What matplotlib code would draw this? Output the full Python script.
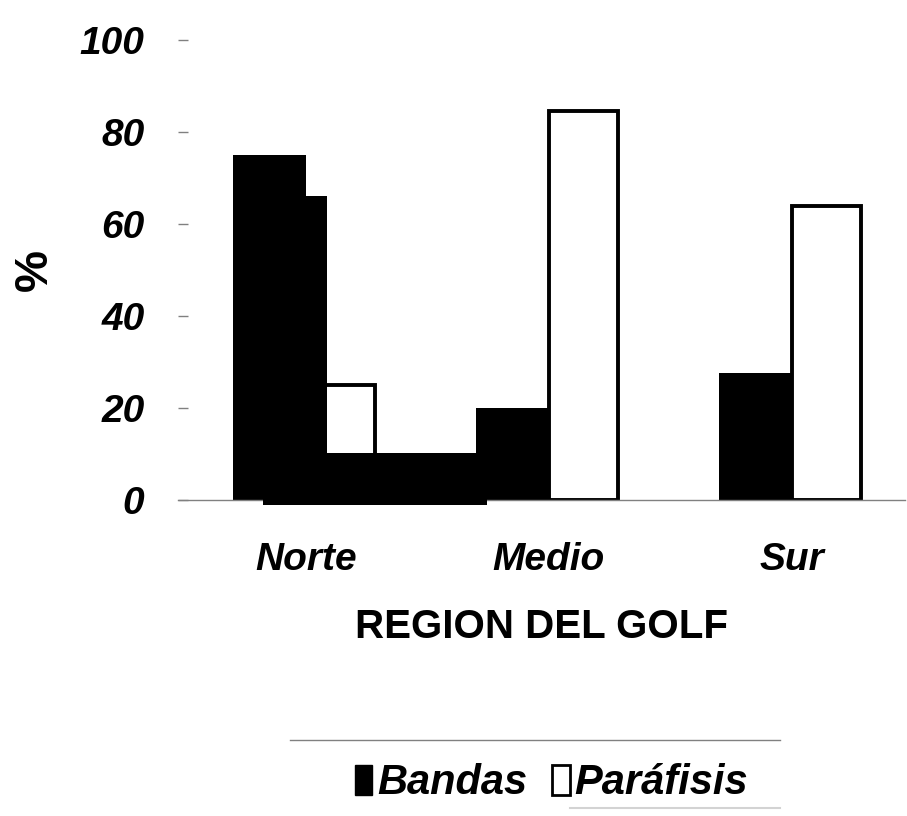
import matplotlib
matplotlib.use('Agg')
import matplotlib.pyplot as plt
from matplotlib.patches import Patch
from matplotlib.lines import Line2D

plt.rcParams['font.family'] = ['Liberation Sans Narrow', 'Liberation Sans', 'DejaVu Sans']

regiones = ['Norte', 'Medio', 'Sur']
bandas = [75, 20, 27.5]
parafisis = [25, 84.5, 64]
yticks = [0, 20, 40, 60, 80, 100]
# manchas del escaneo en la zona Norte
mancha_alto = 66
franja = (-1.2, 10.2)

x = list(range(len(regiones)))
wb = 0.298
wp = 0.285

fig = plt.figure(figsize=(9.07, 8.16), dpi=100)
ax = fig.add_axes([0.196, 0.3873, 0.8016, 0.5637])

ax.bar(x, bandas, width=-wb, align='edge', color='black', edgecolor='black', linewidth=0, zorder=2)
ax.bar(x, parafisis, width=wp, align='edge', color='white', edgecolor='black', linewidth=2.8, zorder=2)
# scan artifacts
ax.bar(x[0], mancha_alto, width=0.086, align='edge', color='black', linewidth=0, zorder=3)
ax.bar(x[0] - 0.177, franja[1] - franja[0], bottom=franja[0], width=0.922, align='edge',
       color='black', linewidth=0, zorder=3, clip_on=False)

ax.set_xlim(-0.527, 2.465)
ax.set_ylim(0, 100)
ax.set_yticks(yticks)
ax.set_yticklabels([str(t) for t in yticks], fontsize=28, fontweight='bold', fontstyle='italic')
ax.set_xticks(x)
ax.set_xticklabels(regiones, fontsize=28, fontweight='bold', fontstyle='italic')
ax.tick_params(axis='y', direction='in', length=7, width=1, color='grey', pad=24)
ax.tick_params(axis='x', length=0, pad=30)
for s in ['top', 'right', 'left']:
    ax.spines[s].set_visible(False)
ax.spines['bottom'].set_color('grey')
ax.spines['bottom'].set_linewidth(1)

ax.set_ylabel('%', fontsize=34, fontweight='bold')
ax.yaxis.set_label_coords(-0.166, 0.5)
ax.set_xlabel('REGION DEL GOLF', fontsize=29, fontweight='bold', labelpad=22)

handles = [Patch(facecolor='black', edgecolor='black'),
           Patch(facecolor='white', edgecolor='black', linewidth=2)]
fig.legend(handles, ['Bandas', 'Parafisis'.replace('ara', 'ará', 1)], loc='center',
           bbox_to_anchor=(0.608, 0.04), ncol=2, frameon=False,
           prop={'size': 30, 'weight': 'bold', 'style': 'italic'},
           handlelength=0.42, handleheight=0.75, handletextpad=0.12, columnspacing=0.6)
fig.add_artist(Line2D([290 / 907, 780 / 907], [1 - 740 / 816] * 2, color='grey', lw=1))
fig.add_artist(Line2D([570 / 907, 780 / 907], [1 - 808 / 816] * 2, color='lightgrey', lw=1.5))

fig.savefig('out.png', dpi=100)
